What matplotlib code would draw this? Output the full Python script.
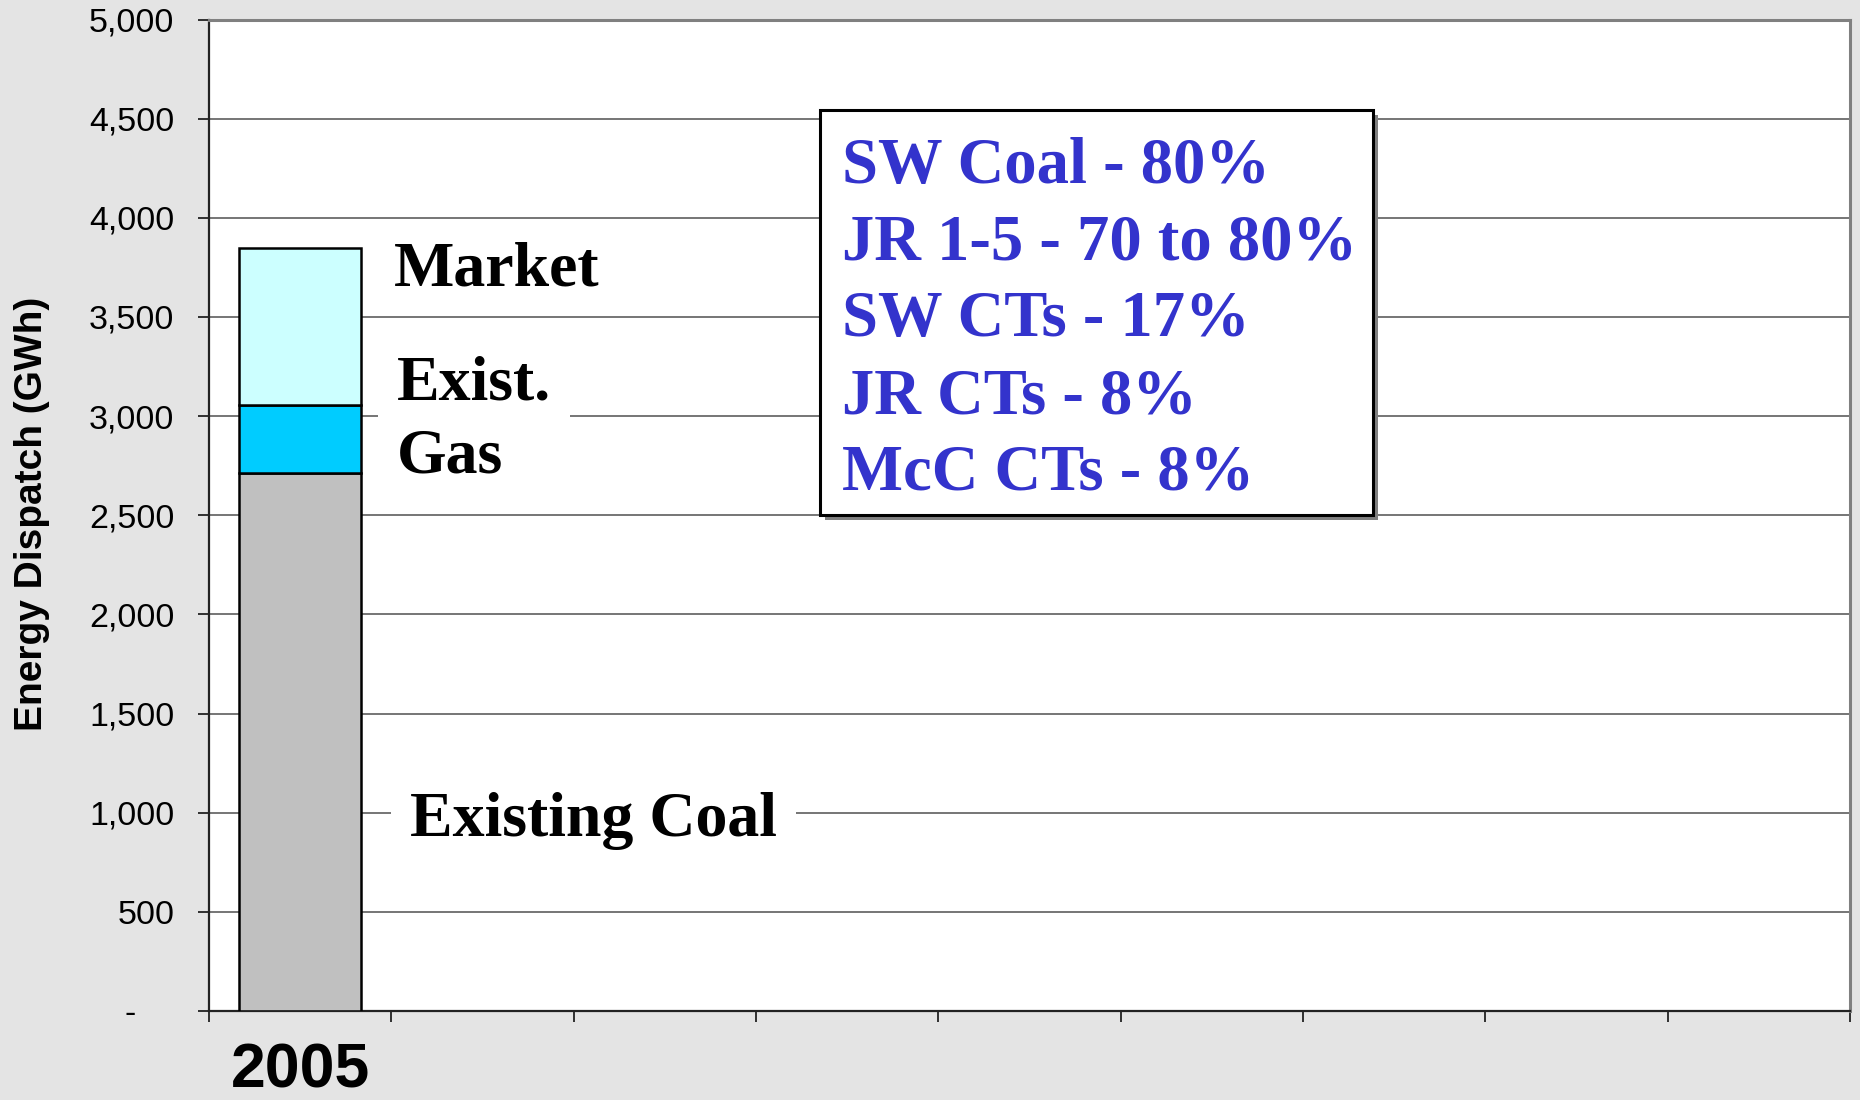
import matplotlib
matplotlib.use("Agg")
import matplotlib.pyplot as plt
from matplotlib.ticker import FuncFormatter, FixedLocator
from matplotlib.patches import Rectangle

# ---- data ----
categories = ["2005", "", "", "", "", "", "", "", ""]
bar_years = ["2005"]
existing_coal = [2715]
existing_gas = [341]
market = [793]
yticks = [0, 500, 1000, 1500, 2000, 2500, 3000, 3500, 4000, 4500, 5000]
box_lines = ["SW Coal - 80%", "JR 1-5 - 70 to 80%", "SW CTs - 17%",
             "JR CTs - 8%", "McC CTs - 8%"]

W, H = 1860, 1100
fig = plt.figure(figsize=(W / 100, H / 100), dpi=100, facecolor="#E4E4E4")
ax = fig.add_axes([209 / W, 1 - 1011 / H, (1850 - 209) / W, (1011 - 19.5) / H])
ax.set_facecolor("white")

n = len(categories)
xpos = [categories.index(y) for y in bar_years]
bw = 0.67
ec = "black"
lw = 1.8
ax.bar(xpos, existing_coal, bw, color="#C0C0C0", edgecolor=ec, linewidth=lw, zorder=3)
ax.bar(xpos, existing_gas, bw, bottom=existing_coal, color="#00CCFF",
       edgecolor=ec, linewidth=lw, zorder=3)
bot2 = [a + b for a, b in zip(existing_coal, existing_gas)]
ax.bar(xpos, market, bw, bottom=bot2, color="#CCFFFF", edgecolor=ec,
       linewidth=lw, zorder=3)

ax.set_xlim(-0.5, n - 0.5)
ax.set_ylim(0, 5000)
ax.set_yticks(yticks)
ax.yaxis.set_major_formatter(FuncFormatter(lambda v, p: "-    " if v == 0 else f"{int(v):,}"))
ax.grid(axis="y", color="#505050", linewidth=1.1, zorder=0)
ax.set_axisbelow(True)

ax.xaxis.set_major_locator(FixedLocator([i - 0.5 for i in range(n + 1)]))
ax.xaxis.set_minor_locator(FixedLocator(list(range(n))))
ax.set_xticklabels([], minor=False)
ax.set_xticklabels(categories, minor=True)
ax.tick_params(axis="x", which="major", direction="out", length=8, width=1.3, color="#222222")
ax.tick_params(axis="x", which="minor", length=0, pad=22)
for t in ax.get_xticklabels(minor=True):
    t.set_fontfamily("Liberation Sans")
    t.set_fontweight("bold")
    t.set_fontsize(45)
ax.tick_params(axis="y", direction="out", length=8, width=1.3, color="#222222", pad=17,
               labelsize=24.5)
for t in ax.get_yticklabels():
    t.set_fontfamily("Liberation Sans")

for s in ["left", "bottom"]:
    ax.spines[s].set_color("#222222")
    ax.spines[s].set_linewidth(1.6)
for s in ["top", "right"]:
    ax.spines[s].set_color("#808080")
    ax.spines[s].set_linewidth(2.2)

fig.text(32 / W, 1 - 514 / H, "Energy Dispatch (GWh)", rotation=90, ha="center",
         va="center", fontsize=28, fontweight="bold", family="Liberation Sans")

serif = "Liberation Serif"
ax.text(0.515, 3661, "Market", fontsize=46, fontweight="bold", family=serif,
        va="baseline", ha="left", zorder=5)
ax.text(0.531, 2718, "Exist.\nGas", fontsize=46, fontweight="bold", family=serif,
        va="baseline", ha="left", linespacing=1.33, zorder=5,
        bbox=dict(boxstyle="square,pad=0.3", fc="white", ec="none"))
ax.text(0.603, 882, "Existing Coal", fontsize=46, fontweight="bold", family=serif,
        va="baseline", ha="left", zorder=5,
        bbox=dict(boxstyle="square,pad=0.3", fc="white", ec="none"))

# annotation box with shadow
bx0, bx1 = (820 - 209) / 1641, (1373 - 209) / 1641
by0, by1 = (1011 - 515) / 991.5, (1011 - 110) / 991.5
sx, sy = 5 / 1641, 5 / 991.5
ax.add_patch(Rectangle((bx0 + sx, by0 - sy), bx1 - bx0, by1 - by0, transform=ax.transAxes,
                       fc="#808080", ec="none", zorder=6))
ax.add_patch(Rectangle((bx0, by0), bx1 - bx0, by1 - by0, transform=ax.transAxes,
                       fc="white", ec="black", lw=2.2, zorder=7))
baselines = [183, 259, 336, 413, 489]
for line, b in zip(box_lines, baselines):
    ax.text((842 - 209) / 1641, (1011 - b) / 991.5, line, transform=ax.transAxes,
            fontsize=46.5, fontweight="bold", family=serif, color="#3333CC",
            va="baseline", ha="left", zorder=8)

fig.savefig("out.png", dpi=100, facecolor=fig.get_facecolor())
